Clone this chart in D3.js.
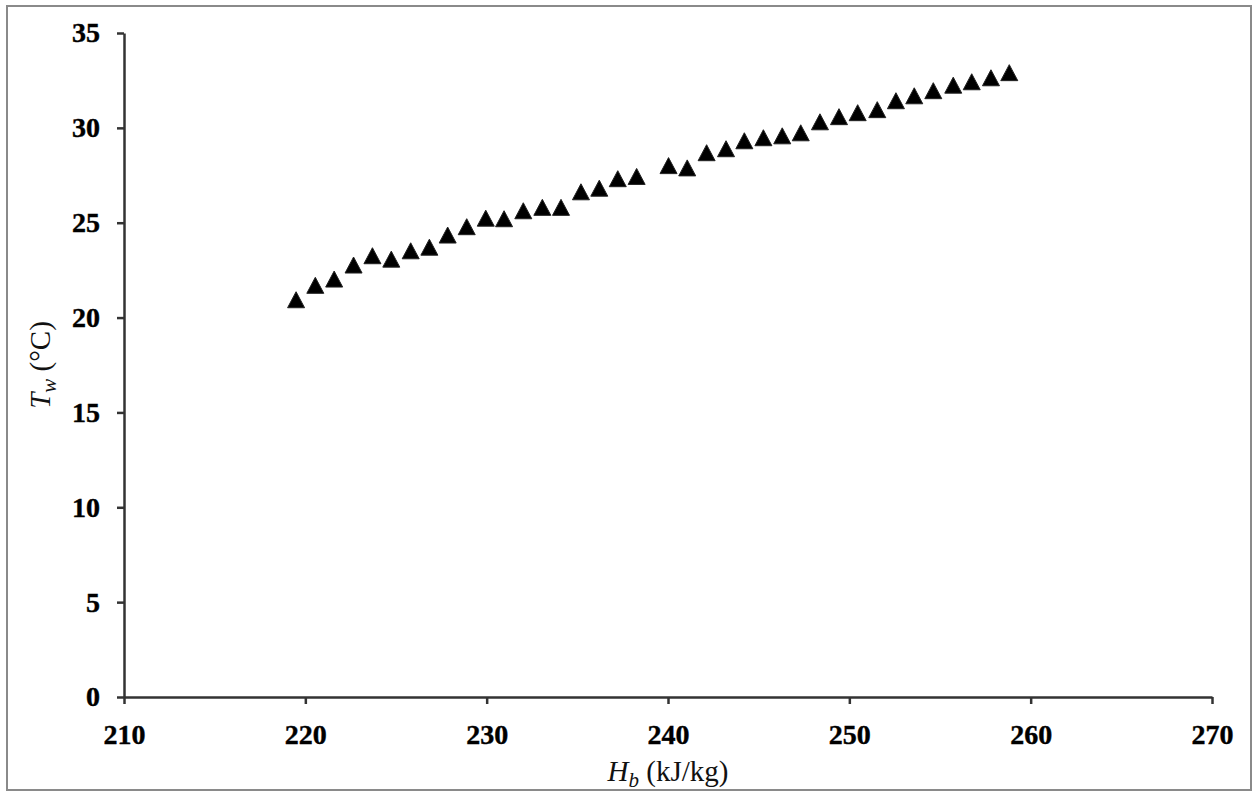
<!DOCTYPE html>
<html>
<head>
<meta charset="utf-8">
<script src="https://cdn.jsdelivr.net/npm/d3@7"></script>
<style>
  html, body { margin: 0; padding: 0; background: #fff; }
  svg { display: block; }
  .tick text { font-family: "Liberation Serif", "Times New Roman", serif; font-weight: bold; font-size: 28px; fill: #000; }
  .axis-title { font-family: "Liberation Serif", "Times New Roman", serif; font-size: 29px; fill: #111; }
</style>
</head>
<body>
<script>
// Enthalpy H_b (kJ/kg) against water temperature T_w (°C)
const hb = [219.49, 220.55, 221.59, 222.66, 223.70, 224.74, 225.81, 226.84, 227.85, 228.90,
            229.95, 230.96, 232.02, 233.07, 234.10, 235.20, 236.21, 237.23, 238.27, 240.03,
            241.06, 242.13, 243.20, 244.21, 245.26, 246.30, 247.32, 248.38, 249.43, 250.46,
            251.54, 252.57, 253.58, 254.63, 255.73, 256.75, 257.81, 258.82];
const tw = [20.94, 21.70, 22.03, 22.77, 23.26, 23.08, 23.52, 23.71, 24.35, 24.79,
            25.24, 25.21, 25.63, 25.81, 25.81, 26.63, 26.82, 27.32, 27.44, 28.01,
            27.89, 28.69, 28.90, 29.32, 29.48, 29.58, 29.74, 30.32, 30.59, 30.80,
            30.96, 31.43, 31.69, 31.96, 32.25, 32.43, 32.64, 32.91];
const xTicks = [210, 220, 230, 240, 250, 260, 270];
const yTicks = [0, 5, 10, 15, 20, 25, 30, 35];

const W = 1258, H = 793;
const svg = d3.select("body").append("svg").attr("width", W).attr("height", H);

// outer frame
svg.append("rect").attr("x", 7).attr("y", 6).attr("width", 1244).attr("height", 784)
  .attr("fill", "none").attr("stroke", "#8a8a8a").attr("stroke-width", 2);

const x = d3.scaleLinear().domain([210, 270]).range([124, 1212]);
const y = d3.scaleLinear().domain([0, 35]).range([697, 33]);

const xAxis = svg.append("g").attr("transform", `translate(0,${y(0)})`)
  .call(d3.axisBottom(x).tickValues(xTicks).tickSize(7).tickSizeOuter(0).tickPadding(20));
const yAxis = svg.append("g").attr("transform", `translate(${x(210)},0)`)
  .call(d3.axisLeft(y).tickValues(yTicks).tickSize(7).tickSizeOuter(0).tickPadding(17));

[xAxis, yAxis].forEach(g => {
  g.select(".domain").attr("stroke", "#333").attr("stroke-width", 2.5);
  g.selectAll(".tick line").attr("stroke", "#333").attr("stroke-width", 2.5);
  g.selectAll(".tick text").attr("stroke", "#000").attr("stroke-width", 0.4);
});

// triangle markers
const tw2 = 17, th2 = 16;
const tri = `M0,${-th2 / 2}L${tw2 / 2},${th2 / 2}L${-tw2 / 2},${th2 / 2}Z`;
svg.append("g").selectAll("path").data(hb.map((h, i) => [h, tw[i]])).join("path")
  .attr("d", tri)
  .attr("transform", d => `translate(${x(d[0])},${y(d[1])})`)
  .attr("fill", "#000").attr("stroke", "#222").attr("stroke-width", 1);

// axis titles
const xt = svg.append("text").attr("class", "axis-title")
  .attr("x", (x(210) + x(270)) / 2).attr("y", 781).attr("text-anchor", "middle");
xt.append("tspan").attr("font-style", "italic").text("H");
xt.append("tspan").attr("font-style", "italic").attr("font-size", "21px").attr("dy", 6).text("b");
xt.append("tspan").attr("dy", -6).text(" (kJ/kg)");

const yt = svg.append("text").attr("class", "axis-title")
  .attr("transform", `translate(50,${(y(0) + y(35)) / 2}) rotate(-90)`).attr("text-anchor", "middle");
yt.append("tspan").attr("font-style", "italic").text("T");
yt.append("tspan").attr("font-style", "italic").attr("font-size", "21px").attr("dy", 6).text("w");
yt.append("tspan").attr("dy", -6).text(" (°C)");
</script>
</body>
</html>
